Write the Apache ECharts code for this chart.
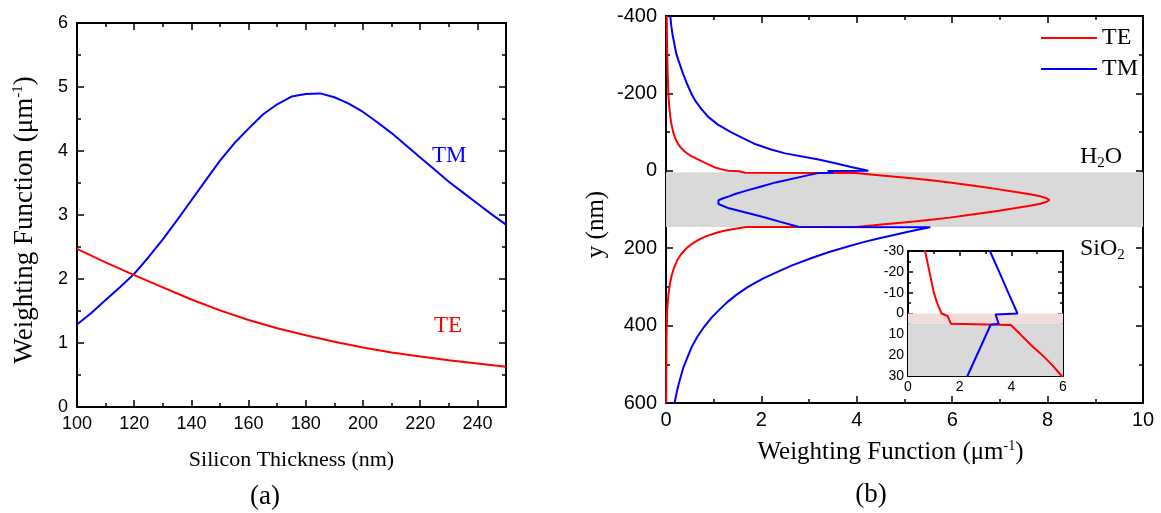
<!DOCTYPE html>
<html>
<head>
<meta charset="utf-8">
<script src="https://cdn.jsdelivr.net/npm/echarts@6/dist/echarts.min.js"></script>
<style>
html,body{margin:0;padding:0;background:#fff;}
#chart{width:1161px;height:513px;}
</style>
</head>
<body>
<div id="chart"></div>
<script>
// ---------- Panel (a): weighting function vs silicon thickness ----------
const thicknessTM = [100,105,110,115,120,125,130,135,140,145,150,155,160,165,170,175,180,185,190,195,200,205,210,215,220,225,230,235,240,245,250];
const weightTM    = [1.29,1.47,1.67,1.87,2.08,2.34,2.62,2.92,3.23,3.54,3.85,4.12,4.35,4.57,4.73,4.85,4.89,4.90,4.84,4.74,4.61,4.45,4.28,4.09,3.90,3.71,3.52,3.35,3.18,3.01,2.85];
const thicknessTE = [100,110,120,130,140,150,160,170,180,190,200,210,220,230,240,250];
const weightTE    = [2.47,2.26,2.06,1.87,1.68,1.51,1.36,1.23,1.12,1.02,0.93,0.85,0.79,0.73,0.68,0.63];

// ---------- Panel (b): weighting function vs position y (nm) ----------
const teDepth = [-400,-350,-300,-250,-200,-170,-140,-120,-100,-85,-71,-60,-50,-40,-30,-20,-10,-5,0,1.2,4.9,
                 5.5,10,15,20,25,30,36,42,48,54,60,66,71,75.5,80,85,91,97,103,109,115,121,126,131,136,141,145,
                 145.5,150,155,160,170,180,190,200,215,230,250,270,290,320,360,420,500,600];
const teValue = [0.015,0.02,0.025,0.035,0.05,0.065,0.09,0.115,0.15,0.19,0.245,0.31,0.39,0.50,0.66,0.83,1.0,1.13,1.3,1.53,1.66,
                 3.98,4.35,4.75,5.2,5.6,5.95,6.3,6.65,6.98,7.3,7.6,7.85,7.98,8.04,7.98,7.85,7.6,7.3,6.98,6.65,6.3,5.95,5.6,5.2,4.75,4.35,4.0,
                 1.68,1.45,1.22,1.06,0.82,0.66,0.53,0.43,0.32,0.24,0.17,0.12,0.085,0.05,0.025,0.012,0.008,0.005];
const tmDepth = [-400,-375,-350,-325,-300,-275,-250,-225,-200,-180,-160,-140,-120,-100,-85,-70,-55,-45,-30,-20,-10,0,
                 0.5,4.9,5.4,15,30,41,50,60,66,71,76,81,86,91,97,107,118,132,145,
                 146,150,157,165,175,185,195,210,226,245,260,278,300,320,340,360,380,403,430,455,480,510,549,575,600];
const tmValue = [0.09,0.11,0.14,0.18,0.22,0.29,0.36,0.44,0.53,0.62,0.74,0.88,1.08,1.36,1.6,1.85,2.2,2.5,3.17,3.53,3.88,4.24,
                 3.39,3.51,3.2,2.85,2.30,1.98,1.72,1.45,1.32,1.2,1.1,1.06,1.1,1.2,1.32,1.65,2.0,2.4,2.79,
                 5.54,5.38,5.1,4.8,4.45,4.12,3.83,3.42,3.04,2.63,2.36,2.04,1.72,1.48,1.28,1.11,0.95,0.80,0.65,0.54,0.455,0.36,0.27,0.22,0.18];

// layers (nm)
const adlayer = [0, 4.9];
const siLayer = [4.9, 145];
const siLayerMain = [4, 145];

// axis ranges / tick steps
const axisA_x = {min:100, max:250, interval:20};
const axisA_y = {min:0, max:6, interval:1};
const axisB_x = {min:0, max:10, interval:2};
const axisB_y = {min:-400, max:600, interval:200};
const inset_x = {min:0, max:6, interval:2};
const inset_y = {min:-30, max:30, interval:10};

const RED = '#ff0000', BLUE = '#0000ff';
const SANS = "'Liberation Sans', Arial, sans-serif";
const SERIF = "'Liberation Serif', 'Times New Roman', serif";

function axis(gridIndex, range, opts) {
  return Object.assign({
    type:'value', gridIndex:gridIndex,
    min:range.min, max:range.max, interval:range.interval,
    axisLine:{show:true, onZero:false, lineStyle:{color:'#000', width:2}},
    axisTick:{show:true, inside:true, length:opts.tick || 7, lineStyle:{color:'#000', width:1.5}},
    minorTick:{show:true, splitNumber:2, length:opts.minor || 4, lineStyle:{color:'#000', width:1.5}},
    splitLine:{show:false},
    minorSplitLine:{show:false},
    axisLabel:opts.label ? Object.assign({fontFamily:SANS, color:'#000'}, opts.label) : {show:false}
  }, opts.extra || {});
}

function richName(size, supSize, padding) {
  return {
    fontFamily:SERIF, color:'#000', padding:padding,
    rich:{
      t:{fontFamily:SERIF, fontSize:size, color:'#000', lineHeight:size+1},
      s:{fontFamily:SERIF, fontSize:supSize, color:'#000', lineHeight:supSize, verticalAlign:'top'}
    }
  };
}

const xAxes = [
  axis(0, axisA_x, {label:{fontSize:18, margin:8, showMaxLabel:false}, extra:{position:'bottom',
     name:'Silicon Thickness (nm)', nameLocation:'middle', nameGap:42,
     nameTextStyle:{fontFamily:SERIF, fontSize:22, color:'#000'}}}),
  axis(0, axisA_x, {extra:{position:'top'}}),
  axis(1, axisB_x, {label:{fontSize:20, margin:7}, extra:{position:'bottom',
     name:'{t|Weighting Function (\u03bcm}{s|-1}{t|)}', nameLocation:'middle', nameGap:36,
     nameTextStyle:richName(25, 14, [0, 28, 0, 0])}}),
  axis(1, axisB_x, {extra:{position:'top'}}),
  axis(2, inset_x, {tick:5, minor:3, label:{fontSize:14, margin:4}, extra:{position:'bottom'}}),
  axis(2, inset_x, {tick:5, minor:3, extra:{position:'top'}})
];
const yAxes = [
  axis(0, axisA_y, {label:{fontSize:18, margin:9}, extra:{position:'left',
     name:'{t|Weighting Function (\u03bcm}{s|-1}{t|)}', nameLocation:'middle', nameGap:38,
     nameTextStyle:richName(27, 15, [0, 10, 0, 0])}}),
  axis(0, axisA_y, {extra:{position:'right'}}),
  axis(1, axisB_y, {label:{fontSize:20, margin:9}, extra:{position:'left', inverse:true,
     name:'y (nm)', nameLocation:'middle', nameGap:57,
     nameTextStyle:{fontFamily:SERIF, fontSize:25, color:'#000', padding:[0, 30, 0, 0]}}}),
  axis(1, axisB_y, {extra:{position:'right', inverse:true}}),
  axis(2, inset_y, {tick:5, minor:3, label:{fontSize:14, margin:4}, extra:{position:'left', inverse:true}}),
  axis(2, inset_y, {tick:5, minor:3, extra:{position:'right', inverse:true}})
];

function pairs(xs, ys) { return xs.map((x, i) => [x, ys[i]]); }

function lineSeries(name, color, xi, yi, data, extra) {
  return Object.assign({
    type:'line', name:name, xAxisIndex:xi, yAxisIndex:yi,
    data:data, symbol:'none', showSymbol:false, smooth:false, clip:true,
    lineStyle:{color:color, width:2}, itemStyle:{color:color},
    animation:false, z:3
  }, extra || {});
}

const option = {
  animation:false,
  backgroundColor:'#fff',
  grid:[
    {left:77, top:23, width:429, height:384},
    {left:666, top:16, width:477, height:387},
    {left:908, top:251, width:155, height:125}
  ],
  xAxis:xAxes,
  yAxis:yAxes,
  legend:{
    orient:'vertical', left:1036, top:21, itemWidth:56, itemHeight:2, itemGap:7,
    icon:'rect',
    data:['TE','TM'],
    textStyle:{fontFamily:SERIF, fontSize:24, color:'#000'},
    selectedMode:false
  },
  series:[
    lineSeries('TM', BLUE, 0, 0, pairs(thicknessTM, weightTM)),
    lineSeries('TE', RED, 0, 0, pairs(thicknessTE, weightTE)),
    lineSeries('TE', RED, 2, 2, pairs(teValue, teDepth), {
      markArea:{silent:true, itemStyle:{color:'#d9d9d9'},
        data:[[{yAxis:siLayerMain[0]},{yAxis:siLayerMain[1]}]]}
    }),
    lineSeries('TM', BLUE, 2, 2, pairs(tmValue, tmDepth)),
    lineSeries('TE', RED, 4, 4, pairs(teValue, teDepth), {
      markArea:{silent:true,
        data:[
          [{yAxis:adlayer[0], itemStyle:{color:'#f3dcdc'}},{yAxis:adlayer[1]}],
          [{yAxis:siLayer[0], itemStyle:{color:'#d9d9d9'}},{yAxis:inset_y.max}]
        ]}
    }),
    lineSeries('TM', BLUE, 4, 4, pairs(tmValue, tmDepth))
  ],
  graphic:[
    {type:'text', x:432, y:156, style:{text:'TM', font:"23px " + SERIF, fill:BLUE, verticalAlign:'middle'}},
    {type:'text', x:434, y:326, style:{text:'TE', font:"23px " + SERIF, fill:RED, verticalAlign:'middle'}},
    {type:'text', x:1080, y:157, style:{text:'{t|H}{s|2}{t|O}', verticalAlign:'middle',
       rich:{t:{fontFamily:SERIF, fontSize:24, fill:'#000', lineHeight:28},
             s:{fontFamily:SERIF, fontSize:15, fill:'#000', lineHeight:15, verticalAlign:'bottom'}}}},
    {type:'text', x:1092, y:201, style:{text:'Si', font:"24px " + SERIF, fill:'#000', verticalAlign:'middle'}},
    {type:'text', x:1080, y:249, style:{text:'{t|SiO}{s|2}', verticalAlign:'middle',
       rich:{t:{fontFamily:SERIF, fontSize:24, fill:'#000', lineHeight:28},
             s:{fontFamily:SERIF, fontSize:15, fill:'#000', lineHeight:15, verticalAlign:'bottom'}}}},
    {type:'text', x:265, y:497, style:{text:'(a)', font:"27px " + SERIF, fill:'#000', align:'center', verticalAlign:'middle'}},
    {type:'text', x:871, y:495, style:{text:'(b)', font:"27px " + SERIF, fill:'#000', align:'center', verticalAlign:'middle'}}
  ]
};

const chart = echarts.init(document.getElementById('chart'), null, {renderer:'canvas'});
chart.setOption(option);
</script>
</body>
</html>
